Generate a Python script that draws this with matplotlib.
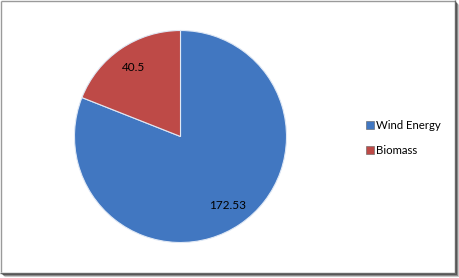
import matplotlib.pyplot as plt
from matplotlib.patches import Rectangle
from matplotlib.lines import Line2D

categories = ['Wind Energy', 'Biomass']
values = [172.53, 40.5]
colors = ['#4177c1', '#be4a47']

W, H = 460, 278
fig = plt.figure(figsize=(W / 100, H / 100), dpi=100)
fig.patch.set_facecolor('white')

# pie axes: center ~(180.5, 136.5) px, radius ~106 px
cx, cy, r = 180.5, 136.5, 106
ax = fig.add_axes([(cx - r) / W, (H - cy - r) / H, 2 * r / W, 2 * r / H])

wedges, texts, autotexts = ax.pie(
    values,
    colors=colors,
    startangle=90,
    counterclock=False,
    radius=1,
    autopct=lambda p: f'{p * sum(values) / 100:g}',
    pctdistance=0.79,
    wedgeprops=dict(edgecolor='#dfe8f5', linewidth=0.8),
    textprops=dict(fontsize=8.5, family='Lato', color='black'),
)
ax.set_xlim(-1, 1)
ax.set_ylim(-1, 1)
ax.set_aspect('equal')
ax.axis('off')

# legend
handles = [Rectangle((0, 0), 1, 1, facecolor=c, edgecolor='#606060', linewidth=0.4) for c in colors]
fig.legend(
    handles, categories,
    loc='center left',
    bbox_to_anchor=(356 / W, 1 - 138 / H),
    frameon=False,
    prop={'family': 'Lato', 'size': 8.2},
    handlelength=0.65,
    handleheight=0.65,
    handletextpad=0.25,
    labelspacing=1.2,
)

# frame with shadow
def fline(x0, y0, x1, y1, color, lw):
    fig.add_artist(Line2D([x0 / W, x1 / W], [1 - y0 / H, 1 - y1 / H],
                          transform=fig.transFigure, color=color, linewidth=lw,
                          solid_capstyle='butt'))

fline(0.5, 0.5, 455, 0.5, '#9a9a9a', 1)
fline(0.5, 0.5, 0.5, 272, '#9a9a9a', 1)
fline(455.5, 0, 455.5, 273, '#6a6a6a', 1)
fline(0, 272.5, 456, 272.5, '#6a6a6a', 1)
fline(456.5, 2, 456.5, 274, '#555555', 0.75)
fline(2, 273.5, 457, 273.5, '#555555', 0.75)
fline(457.5, 3, 457.5, 275, '#8a8a8a', 0.75)
fline(3, 274.5, 458, 274.5, '#8a8a8a', 0.75)
fline(458.5, 4, 458.5, 276, '#c8c8c8', 0.75)
fline(4, 275.5, 459, 275.5, '#c8c8c8', 0.75)

fig.savefig('out.png', dpi=100)
